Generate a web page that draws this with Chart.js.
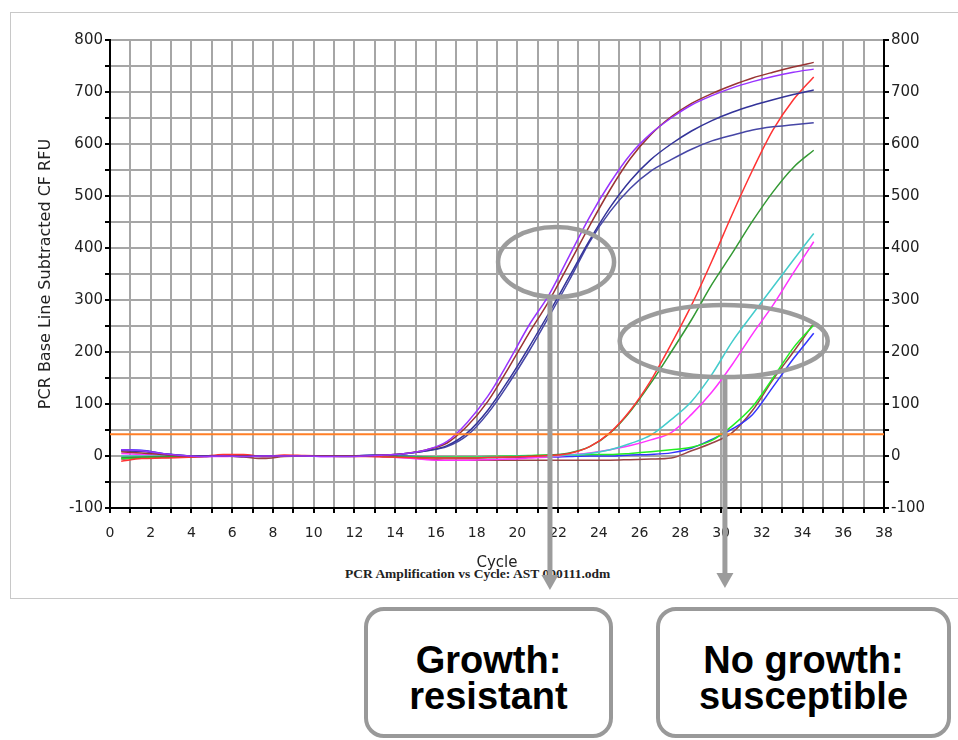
<!DOCTYPE html>
<html>
<head>
<meta charset="utf-8">
<title>PCR Amplification vs Cycle</title>
<script src="https://cdn.jsdelivr.net/npm/chart.js@4/dist/chart.umd.min.js"></script>
<style>
    html, body { margin: 0; padding: 0; background: #fff; }
    .page { position: relative; width: 958px; height: 740px; overflow: hidden; font-family: "Liberation Sans", Arial, sans-serif; }
    .frame { position: absolute; left: 10px; top: 12px; width: 960px; height: 585px; border: 1px solid #c8c8c8; border-right: none; }
    .source { position: absolute; left: 345px; top: 566px; font: bold 13.5px "Liberation Serif", serif; color: #222; white-space: nowrap; }
    .chart-wrap { position: absolute; left: 0; top: 0; width: 958px; height: 600px; z-index: 1; }
    .box { position: absolute; top: 607px; height: 131px; box-sizing: border-box; border: 4px solid #999; border-radius: 20px; background: #fff;
           text-align: center; font-weight: bold; font-size: 38px; line-height: 36px; padding-top: 31px; color: #000; z-index: 2; }
</style>
</head>
<body>
<div class="page">
    <div class="frame"></div>
    <div class="source">PCR Amplification vs Cycle: AST 000111.odm</div>
    <div class="chart-wrap"><canvas id="pcrChart"></canvas></div>
    <div class="box" style="left:364px; width:249px;">Growth:<br>resistant</div>
    <div class="box" style="left:656px; width:295px;">No growth:<br>susceptible</div>
</div>
<script>
// x position of each reading (cycle)
const cycles = [0.55, 1.55, 2.55, 3.55, 4.55, 5.55, 6.55, 7.55, 8.55, 9.55, 10.55, 11.55, 12.55, 13.55, 14.55, 15.55, 16.55, 17.55,
    18.55, 19.55, 20.55, 21.55, 22.55, 23.55, 24.55, 25.55, 26.55, 27.55, 28.55, 29.55, 30.55, 31.55, 32.55, 33.55, 34.55];

// early wells (growth)
const violetWell = [12, 10, 5, 1, -1, 0, -1, 0, 0, 0, -1, -1, 0, 2, 5, 12, 28, 65, 115, 180, 250, 310, 385, 460, 525, 580, 620, 650, 675, 693, 708, 720, 730, 738, 744];
const brownWell = [8, 6, 3, 0, -1, 0, 0, -1, 0, 0, 0, 0, 0, 2, 5, 12, 25, 58, 105, 168, 235, 298, 370, 443, 512, 572, 618, 652, 678, 697, 713, 727, 738, 748, 757];
const navyWell = [10, 9, 4, 1, 0, 0, -1, 0, 0, 0, 0, 0, 1, 2, 5, 10, 20, 45, 88, 145, 208, 275, 345, 415, 478, 530, 570, 600, 625, 645, 661, 674, 685, 695, 704];
const slateWell = [11, 10, 5, 1, 0, 0, 0, 0, 0, 0, 0, 0, 1, 2, 5, 10, 18, 40, 82, 138, 200, 268, 338, 412, 470, 515, 548, 570, 590, 606, 617, 627, 633, 637, 641];

// late wells
const redWell = [-10, -5, -4, -3, -1, 3, 3, -1, 2, 1, 0, -1, -1, -2, -3, -4, -4, -4, -3, -2, -1, 1, 5, 18, 45, 88, 145, 215, 290, 375, 465, 550, 627, 685, 729];
const greenWell = [-3, -2, -1, 0, 0, 0, 0, 0, 0, 0, 0, 0, 0, -1, -2, -3, -4, -4, -3, -2, 0, 2, 6, 18, 44, 86, 140, 200, 262, 330, 390, 452, 508, 555, 588];
const cyanWell = [0, 0, 0, 0, 0, 0, 0, 0, 0, 0, 0, -1, 0, -1, -2, -3, -3, -3, -2, -1, 0, 0, 2, 5, 12, 24, 40, 70, 105, 157, 220, 273, 325, 377, 428];
const magentaWell = [5, 3, 1, 0, -1, -1, 0, 0, 0, 0, -1, 0, 0, -2, -4, -7, -8, -8, -7, -6, -4, -2, 2, 6, 12, 20, 31, 45, 80, 123, 176, 235, 290, 352, 412];
const limeWell = [-5, -3, -1, 0, 0, 0, 0, 0, 0, 0, 0, 0, 0, 0, -1, -2, -2, -2, -1, 0, 1, 2, 2, 3, 3, 5, 8, 12, 17, 30, 58, 95, 150, 208, 252];
const blueWell = [12, 11, 5, 1, 0, 0, 0, -1, 0, 0, 0, 0, 1, 1, 0, -2, -3, -4, -3, -3, -2, -2, -1, 0, 0, 2, 3, 6, 15, 32, 52, 80, 133, 187, 236];
const maroonWell = [-6, -4, -3, -2, -1, 0, -2, -5, -1, 0, 0, 0, 0, -1, -3, -6, -8, -8, -8, -8, -8, -8, -8, -8, -8, -7, -6, -4, 10, 25, 45, 88, 147, 200, 255];

const threshold = 42;
const xTicks = [0, 38];
const yTicks = [-100, 800];

const wells = [
    { data: violetWell, color: '#9933ff' },
    { data: brownWell, color: '#993333' },
    { data: navyWell, color: '#333399' },
    { data: slateWell, color: '#4646a6' },
    { data: redWell, color: '#ff3333' },
    { data: greenWell, color: '#339933' },
    { data: cyanWell, color: '#44cccc' },
    { data: magentaWell, color: '#ff33ff' },
    { data: limeWell, color: '#22ee22' },
    { data: blueWell, color: '#3333ff' },
    { data: maroonWell, color: '#994444' },
];

// grey circles + arrows pointing at the boxes
const callouts = [
    { cx: 21.9, cy: 373, rx: 58, ry: 35, arrowX: 21.6, tipY: 590 },
    { cx: 30.13, cy: 221, rx: 104, ry: 36, arrowX: 30.19, tipY: 588 },
];

const calloutPlugin = {
    id: 'callouts',
    afterDraw(chart) {
        const { ctx, scales: { x, y } } = chart;
        ctx.save();
        ctx.strokeStyle = '#9c9c9c';
        ctx.fillStyle = '#9c9c9c';
        callouts.forEach((c) => {
            const px = x.getPixelForValue(c.cx);
            const py = y.getPixelForValue(c.cy);
            ctx.lineWidth = 4.5;
            ctx.beginPath();
            ctx.ellipse(px, py, c.rx, c.ry, 0, 0, Math.PI * 2);
            ctx.stroke();

            const ax = x.getPixelForValue(c.arrowX);
            ctx.lineWidth = 5;
            ctx.beginPath();
            ctx.moveTo(ax, py + c.ry);
            ctx.lineTo(ax, c.tipY - 14);
            ctx.stroke();
            ctx.beginPath();
            ctx.moveTo(ax - 8.5, c.tipY - 15);
            ctx.lineTo(ax + 8.5, c.tipY - 15);
            ctx.lineTo(ax, c.tipY);
            ctx.closePath();
            ctx.fill();
        });
        ctx.restore();
    },
};

const initPcrChart = () => {
    const canvas = document.getElementById('pcrChart');
    if (!canvas || typeof Chart === 'undefined') {
        return;
    }

    const datasets = [
        {
            data: xTicks.map((c) => ({ x: c, y: threshold })),
            borderColor: '#ff7f27',
            borderWidth: 2,
        },
        ...wells.map((w) => ({
            data: cycles.map((c, i) => ({ x: c, y: w.data[i] })),
            borderColor: w.color,
            borderWidth: 1.5,
            cubicInterpolationMode: 'monotone',
        })),
    ];

    const tickFont = { family: 'DejaVu Sans', size: 14 };
    const gridLine = { color: '#a6a6a6', lineWidth: 2, tickColor: '#000', tickLength: 5 };

    new Chart(canvas, {
        type: 'line',
        data: { datasets },
        options: {
            responsive: true,
            maintainAspectRatio: false,
            animation: false,
            events: [],
            layout: { padding: { top: 40, left: 0, right: 0, bottom: 28 } },
            elements: { point: { radius: 0 } },
            plugins: { legend: { display: false }, tooltip: { enabled: false } },
            scales: {
                x: {
                    type: 'linear',
                    min: xTicks[0],
                    max: xTicks[1],
                    grid: gridLine,
                    border: { color: '#000', width: 2 },
                    ticks: {
                        stepSize: 1,
                        autoSkip: false,
                        maxRotation: 0,
                        padding: 12,
                        color: '#222',
                        font: tickFont,
                        callback: (v) => (v % 2 === 0 ? String(v) : ''),
                    },
                    title: { display: true, text: 'Cycle', color: '#222', font: { family: 'DejaVu Sans', size: 15 }, padding: 0 },
                    afterFit: (scale) => { scale.height = 64; },
                },
                y: {
                    position: 'left',
                    min: yTicks[0],
                    max: yTicks[1],
                    grid: gridLine,
                    border: { color: '#000', width: 2 },
                    ticks: {
                        stepSize: 50,
                        padding: 2,
                        color: '#222',
                        font: { family: 'DejaVu Sans', size: 15 },
                        callback: (v) => (v % 100 === 0 ? String(v) : ''),
                    },
                    title: {
                        display: true,
                        text: 'PCR Base Line Subtracted CF RFU',
                        color: '#222',
                        font: { family: 'DejaVu Sans', size: 16 },
                        padding: { top: 36 },
                    },
                    afterFit: (scale) => { scale.width = 110; },
                },
                y2: {
                    position: 'right',
                    min: yTicks[0],
                    max: yTicks[1],
                    grid: { ...gridLine, drawOnChartArea: false },
                    border: { color: '#000', width: 2 },
                    ticks: {
                        stepSize: 50,
                        padding: 2,
                        color: '#222',
                        font: { family: 'DejaVu Sans', size: 15 },
                        callback: (v) => (v % 100 === 0 ? String(v) : ''),
                    },
                    afterFit: (scale) => { scale.width = 74; },
                },
            },
        },
        plugins: [calloutPlugin],
    });
};

document.addEventListener('DOMContentLoaded', () => {
    initPcrChart();
});
</script>
</body>
</html>
